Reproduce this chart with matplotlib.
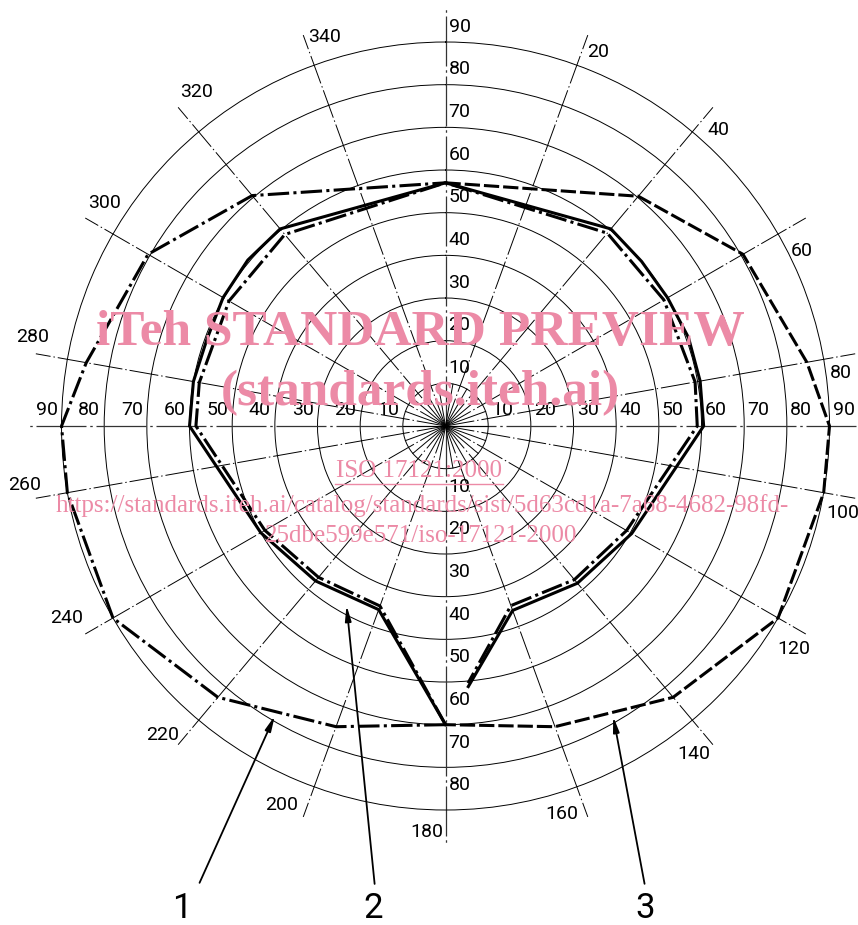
import numpy as np
import matplotlib
matplotlib.use('Agg')
import matplotlib.pyplot as plt
from matplotlib.lines import Line2D

plt.rcParams['font.family'] = ['Roboto', 'DejaVu Sans']

# radial rings and labelled spoke angles
ring_values = [10, 20, 30, 40, 50, 60, 70, 80, 90]
spoke_angles = [20, 40, 60, 80, 100, 120, 140, 160, 200, 220, 240, 260, 280, 300, 320, 340]
angle_labels = [20, 40, 60, 80, 100, 120, 140, 160, 180,
                200, 220, 240, 260, 280, 300, 320, 340]

# where each angle label sits (deg, radius)
angle_label_theta = [22.2, 42.6, 63.9, 82.4, 102.3, 122.6, 142.9, 163.3, 182.7,
                     203.4, 222.4, 243.1, 262, 282.2, 303.2, 323.3, 342.7]
angle_label_r = [94.8, 94.4, 93.1, 93.4, 95.2, 96.9, 96.3, 94.9, 95.3,
                 96.9, 98.2, 99.7, 99.7, 99, 95.5, 97.5, 95.4]

# curve 1 (left half, dash-dot)
curve1_deg = [180, 200, 220, 240, 260, 270, 280, 300, 320, 360]
curve1_r = [70, 75, 83, 90, 90, 90, 85.5, 80.5, 70.5, 57]

# curve 3 (right half, dashed)
curve3_deg = [0, 40, 60, 80, 90, 100, 120, 140, 160, 180]
curve3_r = [57, 70.3, 80.5, 86, 90, 90, 90, 83, 75, 70]

# curve 2 (inner, solid)
curve2_deg = [180, 200, 220, 240, 270, 280, 290, 300, 310, 320, 360,
              40, 50, 60, 70, 80, 90, 120, 140, 160, 175]
curve2_r = [70, 45.8, 47.4, 50, 60, 60, 59.5, 60.2, 60.5, 60.3, 57,
            60.3, 60, 60.1, 60.6, 60.6, 60.5, 50.4, 48.1, 46, 61.3]

# inner dash-dot companion of curve 2
inner_deg = [180, 200, 220, 240, 270, 280, 300, 320, 360,
             40, 60, 80, 90, 120, 140, 160, 175]
inner_r = [70, 44.9, 46.3, 48.9, 58.5, 58.6, 58.6, 58.6, 57,
           59.0, 59.1, 59.4, 59.0, 49.0, 47.0, 44.8, 60.5]

# callouts: label, arrow tip (deg, r), arrow tail (deg, r), label position (deg, r)
callout_text = ['1', '2', '3']
callout_tip = [(210.5, 78.8), (208.9, 48.0), (150.0, 78.6)]
callout_tail = [(208.3, 121.6), (188.8, 108.6), (156.5, 117.0)]
callout_pos = [(208.7, 128.9), (188.55, 114.4), (157.5, 122.5)]

pink = '#ec8aa6'
label_size = 14

fig = plt.figure(figsize=(8.58, 9.25), dpi=100)
ax = fig.add_axes([0.0717, 0.1243, 0.8951, 0.8303], projection='polar')
ax.set_theta_zero_location('N')
ax.set_theta_direction(-1)
ax.set_ylim(0, 90)
ax.set_xticks([])
ax.set_yticks(ring_values[:-1])
ax.set_yticklabels([])
ax.yaxis.grid(True, color='black', lw=0.7, linestyle='-')
ax.spines['polar'].set_linewidth(0.7)
ax.spines['polar'].set_color('black')

thin_dd = (0, (30, 3, 1.5, 3))

# main axes lines
for a in [0, 90, 180, 270]:
    ax.plot([np.radians(a)] * 2, [0, 98], color='#333333', lw=0.9,
            linestyle=(0, (40, 3, 2, 3)), clip_on=False, zorder=2)

# labelled spokes
for a in spoke_angles:
    ax.plot([np.radians(a)] * 2, [0, 97.5], color='black', lw=0.7,
            linestyle=thin_dd, clip_on=False, zorder=2)

for lab, th, r in zip(angle_labels, angle_label_theta, angle_label_r):
    ax.text(np.radians(th), r, str(lab), ha='center', va='center',
            fontsize=label_size, clip_on=False)

# short spokes inside the first ring
for a in range(10, 360, 20):
    ax.plot([np.radians(a)] * 2, [0, 10], color='black', lw=0.7, zorder=2)

# ring values along the axes
for v in ring_values:
    ax.annotate(str(v), xy=(np.radians(270), v + 3.5), xytext=(0, 16),
                textcoords='offset pixels', ha='center', va='center',
                fontsize=label_size, annotation_clip=False)
    ax.annotate(str(v), xy=(np.radians(90), v + 3.3), xytext=(0, 16),
                textcoords='offset pixels', ha='center', va='center',
                fontsize=label_size, annotation_clip=False)
    ax.annotate(str(v), xy=(0, v + 3.6), xytext=(14, 0),
                textcoords='offset pixels', ha='center', va='center',
                fontsize=label_size, annotation_clip=False)
    if v < 90:
        ax.annotate(str(v), xy=(np.pi, v + 4.2), xytext=(14, 0),
                    textcoords='offset pixels', ha='center', va='center',
                    fontsize=label_size, annotation_clip=False)

# measured curves
ax.plot(np.radians(curve1_deg), curve1_r, color='black', lw=2.2,
        linestyle=(0, (7, 1.4, 1, 1.4)), clip_on=False, zorder=4)
ax.plot(np.radians(curve3_deg), curve3_r, color='black', lw=2.2,
        linestyle=(0, (5, 1.3)), clip_on=False, zorder=4)
ax.plot(np.radians(curve2_deg), curve2_r, color='black', lw=2.2,
        linestyle='-', zorder=4)
ax.plot(np.radians(inner_deg), inner_r, color='black', lw=2.2,
        linestyle=(0, (7, 1.4, 1, 1.4)), zorder=4)

# callout arrows and numbers
for t, tip, tail, pos in zip(callout_text, callout_tip, callout_tail, callout_pos):
    ax.annotate('', xy=(np.radians(tip[0]), tip[1]),
                xytext=(np.radians(tail[0]), tail[1]),
                arrowprops=dict(arrowstyle='-|>,head_length=0.9,head_width=0.18',
                                color='black', lw=1.3, shrinkA=0, shrinkB=0),
                annotation_clip=False)
    ax.text(np.radians(pos[0]), pos[1], t, ha='center', va='center',
            fontsize=25, clip_on=False)


def fpx(x, y):
    return x / 858, 1 - y / 925


# watermark text
wm = dict(color=pink, ha='center', va='center', family='Liberation Serif', zorder=10)
fig.text(*fpx(420, 333), 'iTeh STANDARD PREVIEW', fontsize=37, weight='bold', **wm)
fig.text(*fpx(420, 393), '(standards.iteh.ai)', fontsize=37, weight='bold', **wm)
fig.text(*fpx(419, 471), 'ISO 17121:2000', fontsize=18, **wm)
fig.add_artist(Line2D([335 / 858, 503 / 858], [1 - 484 / 925] * 2, color=pink, lw=1))
fig.text(*fpx(422, 506), 'https://standards.iteh.ai/catalog/standards/sist/5d63cd1a-7a68-4682-98fd-',
         fontsize=18, **wm)
fig.text(*fpx(421, 536), '25dbe599e571/iso-17121-2000', fontsize=18, **wm)

fig.savefig('out.png', dpi=100, facecolor='white')
